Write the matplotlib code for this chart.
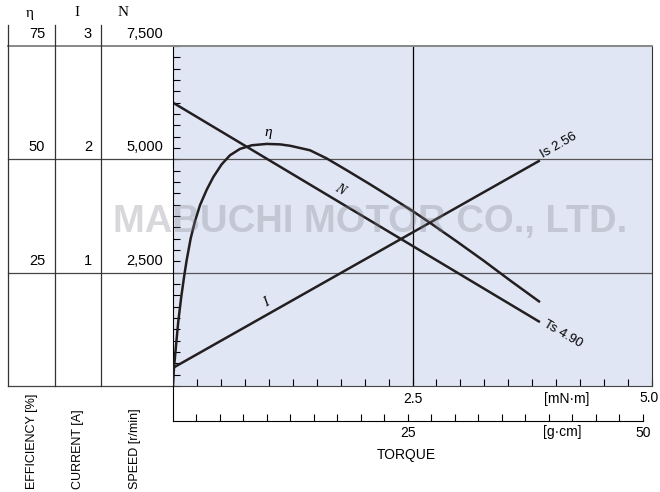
import numpy as np
import matplotlib.pyplot as plt
from matplotlib.transforms import blended_transform_factory

plt.rcParams['font.family'] = ['Liberation Sans', 'DejaVu Sans']

# torque axis limits
torque_max = 5.0          # mN·m
gcm_max = 50              # g·cm
gcm_per_mnm = 10.197

# left table rows
speed_rows = [2500, 5000, 7500]
speed_labels = ["2,500", "5,000", "7,500"]
current_labels = ["1", "2", "3"]
eff_labels = ["25", "50", "75"]

line_torque = [0.0, 3.83]
speed = [6250, 1410]
current = [0.16, 1.99]

# efficiency curve
eff_torque = [0.0, 0.010, 0.031, 0.055, 0.084, 0.115, 0.143, 0.185, 0.230,
              0.282, 0.352, 0.421, 0.508, 0.595, 0.699, 0.822, 0.978, 1.117,
              1.221, 1.430, 1.604, 1.813, 2.056, 2.299, 2.508, 2.717, 2.961,
              3.239, 3.518, 3.831]
efficiency = [0.0, 3.9, 8.8, 14.2, 19.3, 24.0, 27.8, 32.6, 36.4,
              39.9, 43.3, 46.1, 48.9, 50.9, 52.3, 53.1, 53.4, 53.3,
              53.0, 52.0, 50.2, 47.6, 44.5, 41.3, 38.5, 35.5, 31.9,
              27.7, 23.3, 18.5]

stall_torque = 4.90
stall_current = 2.56

W, H = 660, 492
fig = plt.figure(figsize=(W / 100, H / 100), dpi=100)


def fx(px):
    return px / W


def fy(py):
    return 1 - py / H


ax = fig.add_axes([fx(173), fy(386), 479 / W, 340 / H])
ax.set_facecolor('#e1e6f4')
ax.set_xlim(0, torque_max)
ax.set_ylim(0, 7500)
ax.spines['top'].set_color('#888888')
ax.spines['top'].set_linewidth(1.4)
ax.spines['right'].set_color('#333333')
ax.spines['left'].set_color('black')
ax.spines['bottom'].set_color('#444444')

ax.set_yticks(np.arange(0, 7501, 250))
ax.set_yticklabels([])
ax.tick_params(axis='y', direction='in', length=5, width=0.8)
ax.set_xticks([2.5, 5.0])
ax.set_xticklabels(['2.5', ''])
ax.set_xticks(np.arange(0.25, 5.0, 0.25), minor=True)
ax.tick_params(axis='x', which='both', direction='in', length=5, width=0.8,
               labelsize=10, pad=4.5)

for v in speed_rows[:2]:
    ax.axhline(v, color='#555555', lw=0.9)
ax.axvline(2.5, color='black', lw=0.9)

# left table
tr_row = blended_transform_factory(fig.transFigure, ax.transData)
for v in [0] + speed_rows:
    ax.plot([fx(8), fx(173)], [v, v], transform=tr_row, clip_on=False,
            color='#888888' if v == 7500 else '#444444',
            lw=1.4 if v == 7500 else 0.9)
tr_col = blended_transform_factory(fig.transFigure, ax.transAxes)
for px in [8, 55, 101]:
    ax.plot([fx(px), fx(px)], [0, 1.062], transform=tr_col, clip_on=False,
            color='#333333', lw=0.9)

for v, e, c, s in zip(speed_rows, eff_labels, current_labels, speed_labels):
    for px, lab in [(45, e), (92, c), (163, s)]:
        ax.annotate(lab, xy=(fx(px), v), xycoords=tr_row, xytext=(0, 3.5),
                    textcoords='offset points', ha='right', va='bottom',
                    fontsize=10.5)

for px, lab in [(30, 'η'), (77, 'I'), (123, 'N')]:
    fig.text(fx(px), fy(13), lab, ha='center', va='center', fontsize=11,
             family=['Liberation Serif', 'DejaVu Serif'])

for px, lab in [(32, 'EFFICIENCY [%]'), (78, 'CURRENT [A]'),
                (135, 'SPEED [r/min]')]:
    fig.text(fx(px), fy(489), lab, rotation=90, ha='center', va='bottom',
             fontsize=9)

# g·cm axis
ax2 = fig.add_axes([fx(173), fy(421), 479 / W, 35 / H])
ax2.set_facecolor('none')
ax2.set_xlim(0, torque_max * gcm_per_mnm)
ax2.set_ylim(0, 1)
ax2.spines['top'].set_visible(False)
ax2.spines['right'].set_visible(False)
ax2.spines['bottom'].set_bounds(0, gcm_max)
ax2.spines['left'].set_color('black')
ax2.set_yticks([])
ax2.set_xticks([25, 50])
ax2.set_xticklabels(['25', '50'])
ax2.set_xticks(np.arange(2.5, 50, 2.5), minor=True)
ax2.tick_params(axis='x', which='both', direction='in', length=5, width=0.8,
                labelsize=10, pad=3.5)

tr_lab = blended_transform_factory(ax.transData, fig.transFigure)
ax.text(4.11, fy(399), '[mN·m]', transform=tr_lab, ha='center', va='center',
        fontsize=10)
fig.text(fx(659), fy(398), '5.0', ha='right', va='center', fontsize=10)
ax.text(4.06, fy(432), '[g·cm]', transform=tr_lab, ha='center', va='center',
        fontsize=10)
ax.text(2.44, fy(455), 'TORQUE', transform=tr_lab, ha='center', va='center',
        fontsize=10)

# watermark
fig.text(fx(370), fy(232), 'MABUCHI MOTOR CO., LTD.', ha='center',
         va='baseline', fontsize=27.5, fontweight='bold',
         color=(0.5, 0.5, 0.55), alpha=0.3, zorder=0)

# curves
ax_i = ax.twinx()
ax_i.set_ylim(0, 3)
ax_e = ax.twinx()
ax_e.set_ylim(0, 75)
for a in (ax_i, ax_e):
    a.set_yticks([])
    for sp in a.spines.values():
        sp.set_visible(False)

ax.plot(line_torque, speed, color='#231f20', lw=1.8, solid_capstyle='butt')
ax_i.plot(line_torque, current, color='#231f20', lw=1.8, solid_capstyle='butt')
ax_e.plot(eff_torque, efficiency, color='#231f20', lw=1.8,
          solid_capstyle='butt', solid_joinstyle='round')

serif = ['Liberation Serif', 'DejaVu Serif']
ax_e.text(0.99, 56.0, 'η', ha='center', va='center', fontsize=11,
          family=serif, style='italic')
ax.text(1.74, 4330, 'N', ha='center', va='center', fontsize=10,
        family=serif, style='italic', rotation=-31)
ax_i.text(0.97, 0.73, 'I', ha='center', va='center', fontsize=10,
          family=serif, style='italic', rotation=29)

ax_i.annotate(f'Is {stall_current:.2f}', xy=(line_torque[1], current[1]),
              xytext=(3, 0), textcoords='offset points', ha='left',
              va='bottom', rotation=30, rotation_mode='anchor', fontsize=9.5)
ax.annotate(f'Ts {stall_torque:.2f}', xy=(line_torque[1], speed[1]),
            xytext=(3, -1), textcoords='offset points', ha='left',
            va='center', rotation=-30, rotation_mode='anchor', fontsize=9.5)

fig.savefig('out.png', dpi=100)
